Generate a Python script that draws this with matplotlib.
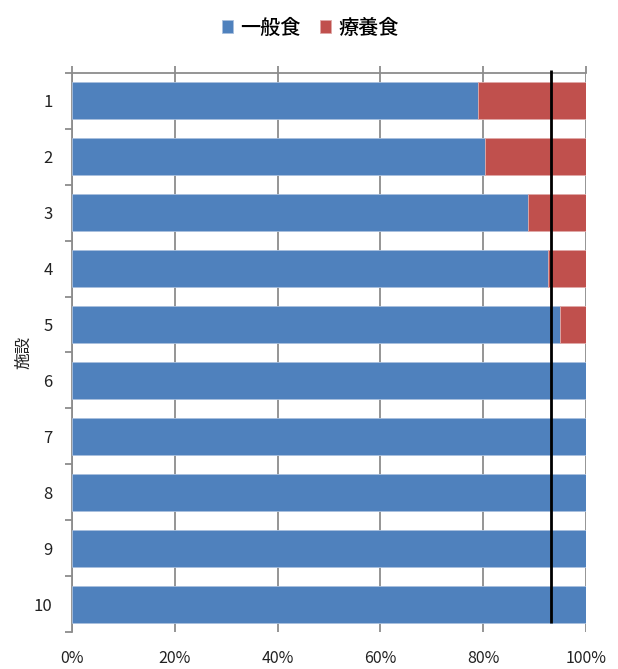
import matplotlib
matplotlib.use('Agg')
import matplotlib.pyplot as plt
import numpy as np

plt.rcParams['font.family'] = ['Noto Sans CJK JP', 'DejaVu Sans']

# --- DATA ---
facilities = ['1', '2', '3', '4', '5', '6', '7', '8', '9', '10']
general_pct = [78.9, 80.3, 88.7, 92.7, 94.9, 100.0, 100.0, 100.0, 100.0, 100.0]
therapeutic_pct = [100.0 - g for g in general_pct]
average_general = 93.2
xticks = [0, 20, 40, 60, 80, 100]
xtick_labels = ['0%', '20%', '40%', '60%', '80%', '100%']

blue = '#4F81BD'
red = '#C0504D'
grid_gray = '#8C8C8C'

fig = plt.figure(figsize=(6.18, 6.69), dpi=100)
ax = fig.add_axes([0.1165, 0.0553, 0.8317, 0.8356])

y = np.arange(len(facilities))
ax.barh(y, general_pct, height=0.66, color=blue, edgecolor='#A9C0DE',
        linewidth=0.6, label='一般食', zorder=3)
ax.barh(y, therapeutic_pct, left=general_pct, height=0.66, color=red,
        edgecolor='#E0A9A8', linewidth=0.6, label='療養食', zorder=3)

# average line for general meals
ax.vlines(average_general, -0.55, len(facilities) - 1 + 0.33, color='black',
          linewidth=2.0, zorder=5, clip_on=False)

ax.set_xlim(0, 100)
ax.set_ylim(len(facilities) - 0.5, -0.5)

ax.set_xticks(xticks)
ax.set_xticklabels(xtick_labels)
ax.xaxis.grid(True, color=grid_gray, linewidth=1.3, zorder=0)
ax.tick_params(axis='x', top=True, bottom=False, labeltop=False, labelbottom=True,
               direction='out', length=5, width=1.3, color=grid_gray,
               labelsize=11.5, pad=8, labelcolor='#222222')

ax.set_yticks(y)
ax.set_yticklabels(facilities)
ax.set_yticks(np.arange(-0.5, len(facilities)), minor=True)
ax.tick_params(axis='y', which='major', length=0, pad=14, labelsize=12,
               labelcolor='#222222')
ax.tick_params(axis='y', which='minor', length=5, width=1.3, color=grid_gray,
               direction='out')

for side in ['bottom', 'right']:
    ax.spines[side].set_visible(False)
for side in ['top', 'left']:
    ax.spines[side].set_color(grid_gray)
    ax.spines[side].set_linewidth(1.3)

ax.set_ylabel('施設', fontsize=12, labelpad=1, color='#222222')

fig.legend(loc='center', bbox_to_anchor=(0.502, 0.958), ncol=2, frameon=False,
           handlelength=0.55, handleheight=0.55, handletextpad=0.35,
           columnspacing=1.0, prop={'size': 14.5, 'weight': 'medium'})

fig.savefig('out.png', dpi=100)
